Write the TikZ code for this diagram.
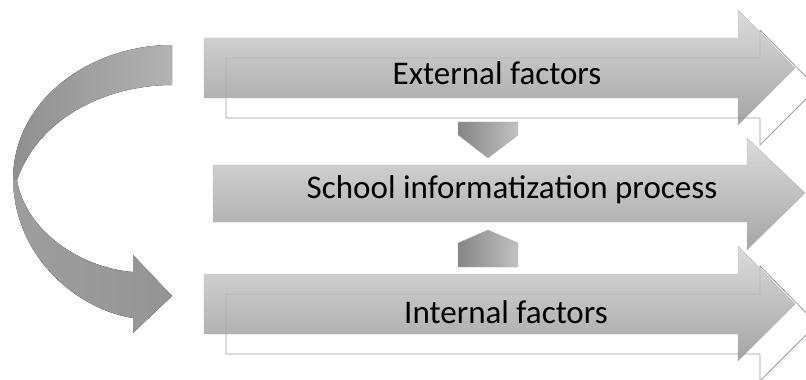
\documentclass[tikz,border=0pt]{standalone}
\usepackage{fontspec}
\setmainfont{Carlito}
\usepackage{tikz}
\usepackage{xcolor}

\tikzset{
  bigarrow/.style={top color=black!17, bottom color=black!43, draw=black!28, line width=0.3pt, fill opacity=0.82},
  ghostarrow/.style={fill=white, draw=black!38, line width=0.6pt},
  ribbon/.style={left color=black!44, right color=black!30},
  stub/.style={left color=black!48, right color=black!24, draw=black!30, line width=0.3pt},
  arrowtext/.style={font=\fontsize{23.5}{28}\selectfont, anchor=base, inner sep=0pt}
}

\begin{document}
\begin{tikzpicture}[x=0.025cm, y=-0.025cm]
\useasboundingbox (0,0) rectangle (806,380);

% outline copies behind the two factor arrows
\foreach \t in {58,294} {
    \draw[ghostarrow] (226,\t) -- (760,\t) -- (760,\t-28) -- (817,\t+30)
        -- (760,\t+87) -- (760,\t+60) -- (226,\t+60) -- cycle;
}

% factor arrows
\foreach \t in {38,274} {
    \draw[bigarrow] (204,\t) -- (738,\t) -- (738,\t-28) -- (795,\t+30)
        -- (738,\t+87) -- (738,\t+60) -- (204,\t+60) -- cycle;
}

% process arrow
\draw[bigarrow] (213,165) -- (747,165) -- (747,138) -- (805,193)
    -- (747,250) -- (747,222) -- (213,222) -- cycle;

% small pentagons
\draw[stub] (458,122) -- (518,122) -- (518,135) -- (488,158) -- (458,135) -- cycle;
\draw[stub] (458,267) -- (518,267) -- (518,243) -- (488,230) -- (458,243) -- cycle;

% curved ribbon arrow
\fill[ribbon] (172,45) .. controls (90,45) and (13,100) .. (13,180)
    -- (17,180) .. controls (40,115) and (110,85) .. (172,85) -- cycle;
\fill[ribbon, left color=black!38, right color=black!42]
    (13,180) .. controls (15,260) and (80,310) .. (133,318)
    -- (133,333) -- (172,296) -- (133,255) -- (133,272)
    .. controls (80,268) and (25,230) .. (17,180) -- cycle;

% texts
\node[arrowtext] (external) at (497,85) {External factors};
\node[arrowtext] (school) at (512,198) {School informatization process};
\node[arrowtext] (internal) at (506,323) {Internal factors};

\end{tikzpicture}
\end{document}
